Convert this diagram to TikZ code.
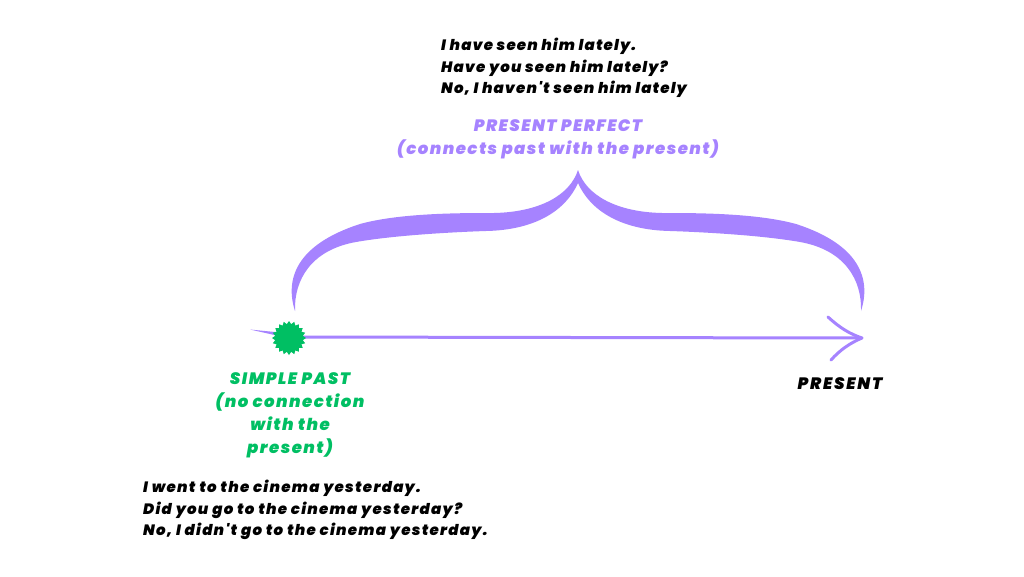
\documentclass[tikz,border=0pt]{standalone}
\usepackage{fontspec}
\setmainfont{Poppins}
\newfontfamily\heavy{Poppins Black Italic}
\usetikzlibrary{shapes.geometric}
\definecolor{ppl}{HTML}{A683FF}
\definecolor{grn}{HTML}{00BF63}
\tikzset{
  ex/.style={inner sep=0pt, text=black, align=left, anchor=west,
    font=\heavy\addfontfeatures{LetterSpace=7.5}\fontsize{15}{21.5}\selectfont},
  exwide/.style={ex, font=\heavy\addfontfeatures{LetterSpace=8.5}\fontsize{15}{21.5}\selectfont},
  lab/.style={inner sep=0pt, align=center,
    font=\heavy\addfontfeatures{LetterSpace=9}\fontsize{16.5}{23}\selectfont},
}
\begin{document}
\begin{tikzpicture}[x=1pt,y=-1pt]
\useasboundingbox (0,0) rectangle (1024,576);
\fill[white] (0,0) rectangle (1024,576);
% brace
\fill[ppl] (295,311) .. controls (285,280) and (295,245) .. (360,224)
  .. controls (400,213) and (460,213) .. (494,213)
  .. controls (540,212) and (570,195) .. (578,170)
  .. controls (586,195) and (616,212) .. (662,213)
  .. controls (696,213) and (756,213) .. (796,224)
  .. controls (861,245) and (871,280) .. (861,311)
  .. controls (862,280) and (845,250) .. (800,242)
  .. controls (760,235) and (700,232) .. (670,231)
  .. controls (620,230) and (590,210) .. (578,183)
  .. controls (566,210) and (536,230) .. (486,231)
  .. controls (456,232) and (396,235) .. (356,242)
  .. controls (311,250) and (294,280) .. (295,311) -- cycle;
% timeline
\coordinate (start) at (250,329.5);
\coordinate (tip) at (862,338);
\coordinate (w1) at (828,317);
\coordinate (w2) at (831,360);
\fill[ppl] (start) -- (290,333.5) -- (290,338.5) -- cycle;
\draw[ppl, line width=3pt] (290,337) -- (860,338);
\draw[ppl, line width=3pt, line cap=round, line join=round] (w1) .. controls (840,328) and (850,334) .. (tip) .. controls (850,343) and (840,350) .. (w2);
\node[star, star points=20, star point ratio=1.22, minimum size=34pt, inner sep=0pt, fill=grn] (dot) at (289,338) {};
% texts
\node[ex] (ex1) at (441,68) {I have seen him lately.\\Have you seen him lately?\\No, I haven't seen him lately};
\node[lab, text=ppl] (pp) at (558,139.5) {PRESENT PERFECT\\(connects past with the present)};
\node[lab, text=grn] (sp) at (290,415) {SIMPLE PAST\\(no connection\\with the\\present)};
\node[lab, text=black, font=\heavy\addfontfeatures{LetterSpace=11}\fontsize{16.5}{23}\selectfont] (pr) at (840,384) {PRESENT};
\node[exwide] (ex2) at (143,510) {I went to the cinema yesterday.\\Did you go to the cinema yesterday?\\No, I didn't go to the cinema yesterday.};
\end{tikzpicture}
\end{document}
